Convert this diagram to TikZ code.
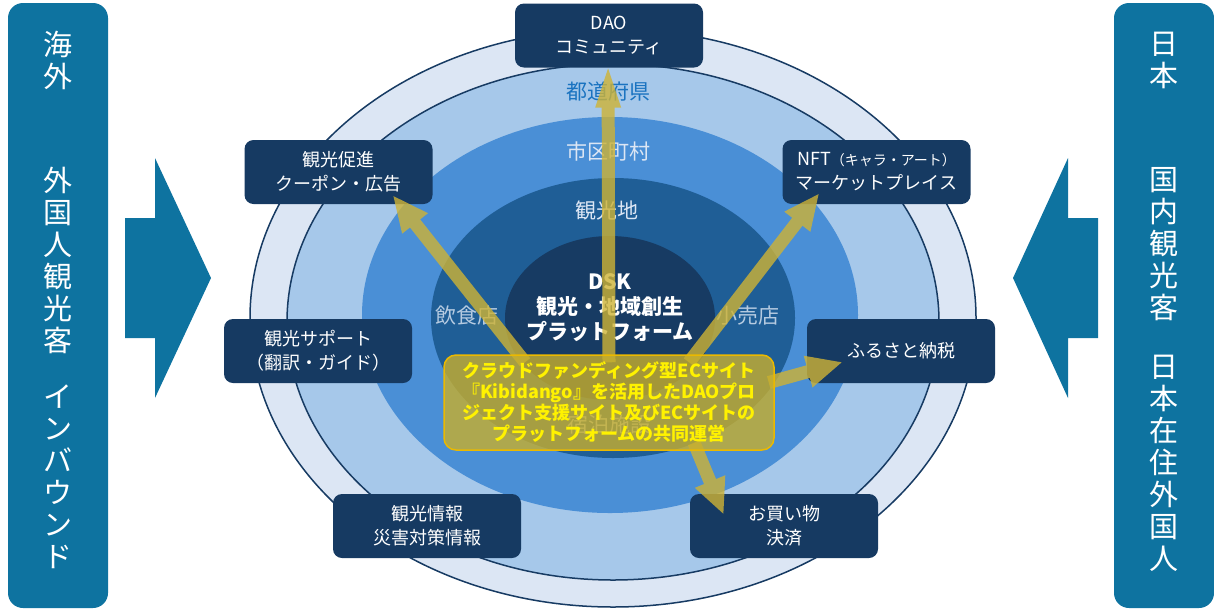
\documentclass[tikz,border=0pt]{standalone}
\usepackage{fontspec}
\setmainfont{Noto Sans CJK JP}
\usetikzlibrary{positioning,calc,arrows.meta}
\definecolor{panelblue}{RGB}{14,115,160}
\definecolor{boxnavy}{RGB}{22,58,98}
\definecolor{ringA}{RGB}{220,230,244}
\definecolor{ringB}{RGB}{166,200,234}
\definecolor{ringC}{RGB}{74,143,214}
\definecolor{ringD}{RGB}{31,94,150}
\definecolor{ringE}{RGB}{23,59,99}
\definecolor{prefblue}{RGB}{26,115,192}
\definecolor{khaki}{RGB}{206,179,53}
\definecolor{ecfill}{RGB}{200,175,45}
\definecolor{ecline}{RGB}{235,185,0}
\pgfdeclarelayer{back}
\pgfdeclarelayer{mid}
\pgfsetlayers{back,mid,main}

\begin{document}
\begin{tikzpicture}[x=1pt,y=-1pt,
		panel/.style={
			fill=panelblue,
			rounded corners=15pt,
			minimum width=100pt,
			minimum height=605pt,
			inner sep=0
		},
		vtext/.style={text=white,align=center,inner sep=0,font=\fontsize{29}{32}\selectfont},
		box/.style={
			fill=boxnavy,
			text=white,
			rounded corners=9pt,
			minimum width=188pt,
			minimum height=64pt,
			inner sep=0,
			align=center,
			font=\fontsize{18}{24}\selectfont
		},
		ring/.style={draw=ringE,line width=1.5pt},
		lvl/.style={inner sep=0,font=\fontsize{21}{25}\selectfont},
		arr/.style={draw=khaki,line width=13pt,-{Triangle[width=30pt,length=36pt]}},
		ecbox/.style={
			fill=ecfill,
			fill opacity=.8,
			text opacity=1,
			draw=ecline,
			line width=1.5pt,
			rounded corners=12pt,
			minimum width=330pt,
			minimum height=95pt,
			inner sep=0,
			align=center,
			text=yellow,
			font=\bfseries\fontsize{18}{21}\selectfont
		}
		]
		\useasboundingbox (0,0) rectangle (1214,611);
		% EC platform (front)
		\node[ecbox] (ec) at (609,402.5) {クラウドファンディング型ECサイト\\『Kibidango』を活用したDAOプロ\\ジェクト支援サイト及びECサイトの\\プラットフォームの共同運営};
		\begin{pgfonlayer}{back}
			% side panels
			\node[panel] (west) at (58,305.5) {};
			\node[panel] (east) at (1164,305.5) {};
			\node[vtext] (w1) at (west.center |- 0,60) {海\\外};
			\node[vtext] (w2) at (west.center |- 0,260) {外\\国\\人\\観\\光\\客};
			\node[vtext] (w3) at (west.center |- 0,477) {イ\\ン\\バ\\ウ\\ン\\ド};
			\node[vtext] (e1) at (east.center |- 0,60) {日\\本};
			\node[vtext] (e2) at (east.center |- 0,244) {国\\内\\観\\光\\客};
			\node[vtext] (e3) at (east.center |- 0,463) {日\\本\\在\\住\\外\\国\\人};
			% block arrows
			\fill[panelblue] (125,218) -- (155,218) -- (155,158) -- (211,278) -- (155,398) -- (155,338) -- (125,338) -- cycle;
			\fill[panelblue] (1098,218) -- (1068,218) -- (1068,158) -- (1013,278) -- (1068,398) -- (1068,338) -- (1098,338) -- cycle;
			% rings
			\filldraw[fill=ringA,ring] (613,318) ellipse [x radius=363pt,y radius=289pt];
			\filldraw[fill=ringB,ring] (613,322) ellipse [x radius=326pt,y radius=258pt];
			\fill[ringC] (610,315) ellipse [x radius=248pt,y radius=198pt];
			\fill[ringD] (613,318) ellipse [x radius=182pt,y radius=140pt];
			\fill[ringE] (610,318) ellipse [x radius=105pt,y radius=82pt];
			% ring labels
			\node[lvl,text=prefblue] (pref) at (608,92) {都道府県};
			\node[lvl,text=ringA] (city) at (608,151) {市区町村};
			\node[lvl,text=ringA] (spot) at (607,211) {観光地};
			\node[lvl,text=ringA!80!ringD] (food) at (467,316) {飲食店};
			\node[lvl,text=ringA!80!ringD] (shop) at (748,316) {小売店};
			\node[lvl,text=ringA!80!ringD] (stay) at (609,425) {宿泊施設};
			\node[text=white,align=center,inner sep=0,font=\bfseries\fontsize{21}{25}\selectfont] (dsk) at (610,308) {DSK\\観光・地域創生\\プラットフォーム};
			% services
			\node[box] (dao) at (609,35.5) {DAO\\コミュニティ};
			\node[box] (cp) at (338.5,172) {観光促進\\クーポン・広告};
			\node[box] (nft) at (876.5,172) {NFT{\fontsize{14}{24}\selectfont（キャラ・アート）}\\マーケットプレイス};
			\node[box] (sup) at (318,351) {観光サポート\\（翻訳・ガイド）};
			\node[box] (furu) at (901,351) {ふるさと納税};
			\node[box] (info) at (427,526) {観光情報\\災害対策情報};
			\node[box] (buy) at (784,526) {お買い物\\決済};
		\end{pgfonlayer}
		% EC -> services
		\begin{pgfonlayer}{mid}
			\begin{scope}[transparency group,opacity=.8]
				\draw[arr,-{Triangle[width=20pt,length=55pt]}] ($(ec.north)+(0,8)$) -- ($(dao.south)+(-1,-15)$);
				\draw[arr] ($(ec.north)+(-84,8)$) -- ($(cp.south east)+(-40,-9)$);
				\draw[arr] ($(ec.north)+(80,8)$) -- ($(nft.south west)+(37,-11)$);
				\draw[arr] ($(ec.east)+(-6,-20)$) -- ($(furu.west)+(36,11)$);
				\draw[arr] ($(ec.south)+(85,-8)$) -- ($(buy.north west)+(34,21)$);
			\end{scope}
		\end{pgfonlayer}
\end{tikzpicture}
\end{document}
